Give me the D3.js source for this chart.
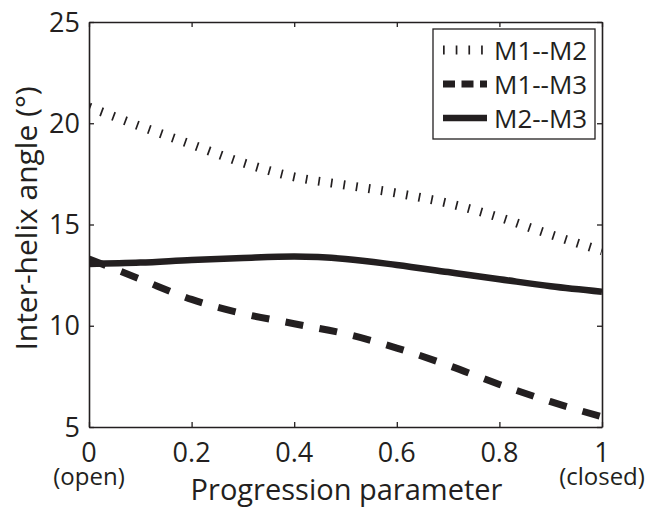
<!DOCTYPE html>
<html><head><meta charset="utf-8">
<script src="https://cdn.jsdelivr.net/npm/d3@7"></script>
<style>
html,body{margin:0;padding:0;background:#fff;}
text{font-family:"Open Sans","Noto Sans",sans-serif;fill:#231f20;}
</style></head>
<body><svg id="chart" width="652" height="507"></svg>
<script>
const progress = [0, 0.1, 0.2, 0.3, 0.4, 0.5, 0.6, 0.7, 0.8, 0.9, 1.0];
const m1m2 = [20.8, 19.85, 18.95, 18.05, 17.35, 16.95, 16.55, 16.05, 15.35, 14.5, 13.7];
const m1m3 = [13.3, 12.3, 11.3, 10.6, 10.1, 9.6, 8.9, 8.05, 7.1, 6.25, 5.5];
const m2m3 = [13.05, 13.12, 13.25, 13.35, 13.42, 13.3, 13.0, 12.65, 12.3, 11.95, 11.68];
const seriesNames = ["M1--M2", "M1--M3", "M2--M3"];
const xTicks = [0, 0.2, 0.4, 0.6, 0.8, 1];
const xSubLabels = {0: "(open)", 1: "(closed)"};
const yTicks = [5, 10, 15, 20, 25];

const svg = d3.select("#chart");
const L = 89, R = 602, T = 22, B = 427;
const x = d3.scaleLinear().domain([0, 1]).range([L, R]);
const y = d3.scaleLinear().domain([5, 25]).range([B, T]);
const ink = "#231f20";

const line = d3.line().x((d, i) => x(progress[i])).y(d => y(d)).curve(d3.curveMonotoneX);

svg.append("defs").append("clipPath").attr("id", "clip")
  .append("rect").attr("x", L).attr("y", T).attr("width", R - L).attr("height", B - T);

const styles = [
  {w: 9, dash: "1.7 11"},
  {w: 7, dash: "18 16.5"},
  {w: 6.5, dash: null}
];
const g = svg.append("g").attr("clip-path", "url(#clip)");
[m1m2, m1m3, m2m3].forEach((s, k) => {
  g.append("path").attr("d", line(s)).attr("fill", "none")
    .attr("stroke", ink).attr("stroke-width", styles[k].w)
    .attr("stroke-dasharray", styles[k].dash).attr("stroke-linecap", "butt");
});

// axes (box with inward ticks)
const ax = svg.append("g");
ax.append("g").attr("transform", `translate(0,${B})`)
  .call(d3.axisBottom(x).tickValues(xTicks).tickSizeInner(-5).tickSizeOuter(0).tickFormat(() => ""));
ax.append("g").attr("transform", `translate(0,${T})`)
  .call(d3.axisTop(x).tickValues(xTicks).tickSizeInner(-5).tickSizeOuter(0).tickFormat(() => ""));
ax.append("g").attr("transform", `translate(${L},0)`)
  .call(d3.axisLeft(y).tickValues(yTicks).tickSizeInner(-5).tickSizeOuter(0).tickFormat(() => ""));
ax.append("g").attr("transform", `translate(${R},0)`)
  .call(d3.axisRight(y).tickValues(yTicks).tickSizeInner(-5).tickSizeOuter(0).tickFormat(() => ""));
ax.selectAll("path.domain").attr("stroke", ink).attr("stroke-width", 1.6);
ax.selectAll(".tick line").attr("stroke", ink).attr("stroke-width", 1.3);

// tick labels
svg.append("g").selectAll("text").data(yTicks).join("text")
  .attr("x", L - 9).attr("y", d => y(d) + 9.5).attr("text-anchor", "end")
  .attr("font-size", 27).text(d => d);
const xl = svg.append("g").selectAll("text").data(xTicks).join("text")
  .attr("text-anchor", "middle");
xl.append("tspan").attr("x", d => x(d)).attr("y", 462).attr("font-size", 27).text(d => d);
xl.filter(d => xSubLabels[d]).append("tspan").attr("x", d => x(d)).attr("y", 485)
  .attr("font-size", 24).text(d => xSubLabels[d]);

svg.append("text").attr("x", (L + R) / 2 + 1).attr("y", 500).attr("text-anchor", "middle")
  .attr("font-size", 29).text("Progression parameter");
svg.append("text").attr("transform", `translate(37,${(T + B) / 2 - 6}) rotate(-90)`)
  .attr("text-anchor", "middle").attr("font-size", 30).text("Inter-helix angle (°)");

// legend
const lg = svg.append("g");
lg.append("rect").attr("x", 433).attr("y", 29).attr("width", 162).attr("height", 110)
  .attr("fill", "#fff").attr("stroke", ink).attr("stroke-width", 1.3);
const legDash = ["1.7 11", "12 6.5", null];
const rowY = [50, 84, 118];
seriesNames.forEach((n, k) => {
  lg.append("line").attr("x1", 443).attr("x2", 487).attr("y1", rowY[k]).attr("y2", rowY[k])
    .attr("stroke", ink).attr("stroke-width", styles[k].w).attr("stroke-dasharray", legDash[k]);
  lg.append("text").attr("x", 494).attr("y", rowY[k] + 10).attr("font-size", 26).text(n);
});
</script></body></html>
